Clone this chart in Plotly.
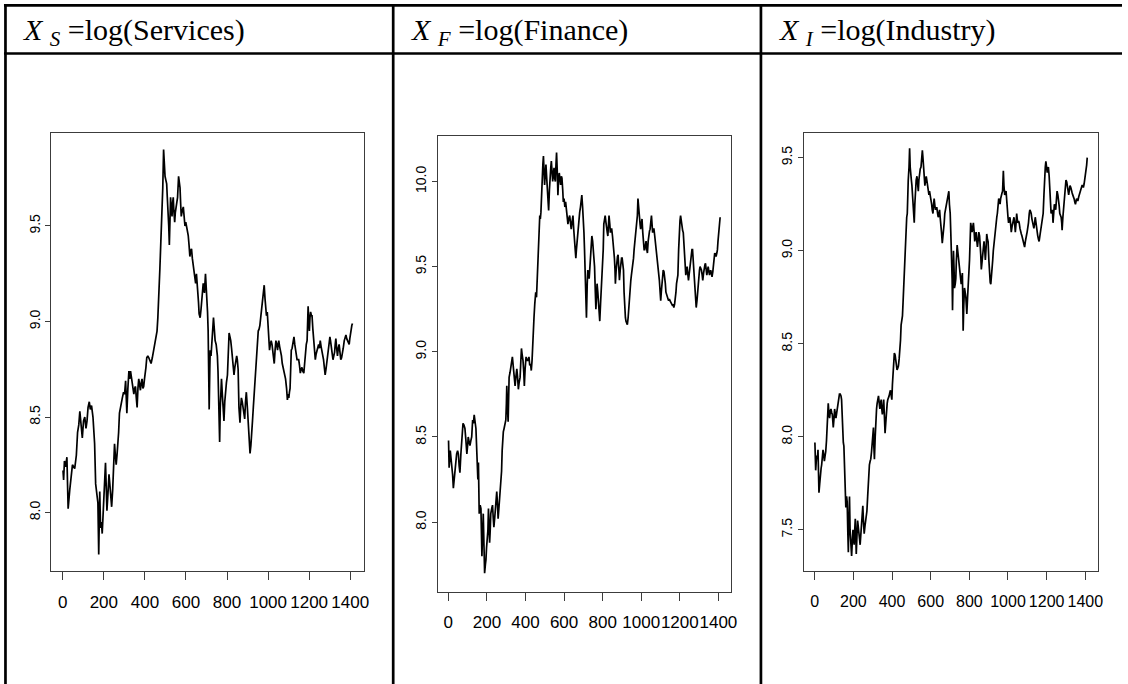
import plotly.graph_objects as go

# ---------------- data ----------------
titles = ["<i>X</i> <sub><i>S</i></sub> =log(Services)",
          "<i>X</i> <sub><i>F</i></sub> =log(Finance)",
          "<i>X</i> <sub><i>I</i></sub> =log(Industry)"]

x_ticks = [0, 200, 400, 600, 800, 1000, 1200, 1400]
services_yticks = [8.0, 8.5, 9.0, 9.5]
finance_yticks = [8.0, 8.5, 9.0, 9.5, 10.0]
industry_yticks = [7.5, 8.0, 8.5, 9.0, 9.5]

services_pts = [(1,8.22),(4,8.17),(8,8.27),(14,8.24),(20,8.29),(26,8.02),(34,8.12),(40,8.20),(47,8.25),(58,8.23),(66,8.30),(72,8.42),(78,8.46),(83,8.53),(89,8.45),(95,8.39),(101,8.48),(107,8.50),(113,8.44),(118,8.48),(123,8.55),(129,8.58),(134,8.54),(140,8.56),(147,8.50),(151,8.43),(155,8.36),(160,8.15),(164,8.10),(167,8.08),(171,8.05),(175,7.78),(180,8.11),(184,7.92),(188,7.95),(192,7.89),(197,8.00),(200,8.07),(204,8.10),(208,8.26),(212,8.12),(215,8.01),(220,8.10),(225,8.20),(229,8.15),(233,8.10),(238,8.03),(243,8.12),(247,8.20),(252,8.36),(256,8.30),(260,8.25),(264,8.30),(268,8.35),(272,8.42),(276,8.52),(280,8.55),(285,8.58),(290,8.60),(296,8.63),(301,8.62),(306,8.69),(309,8.60),(312,8.52),(317,8.65),(322,8.74),(326,8.70),(330,8.74),(334,8.71),(338,8.68),(342,8.64),(346,8.62),(350,8.65),(354,8.66),(358,8.60),(362,8.55),(366,8.65),(370,8.70),(374,8.67),(378,8.64),(382,8.68),(386,8.70),(390,8.65),(394,8.66),(398,8.70),(401,8.72),(405,8.76),(409,8.81),(414,8.82),(419,8.81),(424,8.79),(430,8.78),(436,8.81),(441,8.84),(446,8.87),(451,8.90),(455,8.93),(459,8.95),(463,9.02),(467,9.10),(470,9.20),(473,9.28),(475,9.34),(478,9.42),(482,9.50),(485,9.60),(487,9.70),(491,9.90),(494,9.80),(498,9.76),(502,9.74),(506,9.72),(509,9.65),(512,9.60),(516,9.50),(519,9.40),(522,9.58),(525,9.65),(528,9.60),(532,9.55),(535,9.62),(538,9.65),(541,9.58),(545,9.52),(548,9.57),(551,9.60),(555,9.62),(559,9.65),(564,9.76),(567,9.73),(571,9.70),(574,9.62),(577,9.55),(582,9.58),(587,9.60),(591,9.55),(595,9.50),(599,9.52),(603,9.50),(607,9.47),(611,9.45),(615,9.40),(619,9.34),(623,9.37),(627,9.38),(631,9.33),(635,9.30),(639,9.25),(643,9.23),(647,9.20),(651,9.25),(655,9.20),(658,9.15),(661,9.10),(664,9.04),(669,9.02),(673,9.06),(676,9.10),(680,9.15),(684,9.20),(687,9.18),(690,9.15),(695,9.25),(699,9.18),(702,9.12),(705,9.05),(708,8.95),(711,8.80),(713,8.54),(716,8.75),(718,8.85),(722,8.82),(726,8.88),(730,8.92),(734,9.02),(738,8.96),(742,8.90),(747,8.88),(753,8.82),(756,8.74),(758,8.65),(761,8.55),(764,8.37),(767,8.55),(770,8.68),(773,8.70),(777,8.62),(781,8.55),(785,8.48),(789,8.58),(793,8.65),(797,8.68),(802,8.72),(806,8.85),(810,8.94),(814,8.92),(818,8.90),(822,8.86),(826,8.82),(830,8.76),(834,8.72),(838,8.76),(842,8.78),(847,8.82),(850,8.80),(854,8.75),(858,8.55),(863,8.47),(867,8.56),(870,8.60),(874,8.58),(878,8.55),(882,8.52),(886,8.49),(890,8.58),(894,8.63),(899,8.55),(903,8.45),(907,8.35),(912,8.31),(916,8.35),(920,8.40),(924,8.48),(928,8.55),(932,8.62),(936,8.70),(940,8.76),(944,8.82),(948,8.88),(952,8.95),(956,8.96),(960,8.98),(964,9.02),(968,9.06),(972,9.08),(976,9.12),(981,9.19),(985,9.12),(988,9.08),(992,9.03),(996,9.05),(1001,8.92),(1004,8.88),(1007,8.85),(1011,8.88),(1015,8.90),(1019,8.88),(1023,8.85),(1027,8.82),(1030,8.78),(1034,8.85),(1038,8.90),(1042,8.88),(1046,8.85),(1049,8.88),(1052,8.90),(1056,8.87),(1060,8.85),(1065,8.82),(1069,8.78),(1073,8.76),(1077,8.74),(1081,8.72),(1085,8.70),(1090,8.65),(1094,8.59),(1098,8.62),(1101,8.60),(1104,8.63),(1107,8.65),(1110,8.75),(1113,8.85),(1117,8.86),(1121,8.88),(1126,8.92),(1130,8.88),(1133,8.85),(1137,8.82),(1141,8.80),(1145,8.80),(1149,8.80),(1153,8.77),(1157,8.73),(1161,8.75),(1165,8.76),(1169,8.74),(1174,8.73),(1178,8.78),(1182,8.85),(1186,8.88),(1190,8.90),(1195,9.08),(1198,9.00),(1201,8.95),(1204,9.02),(1207,9.05),(1211,9.03),(1214,9.03),(1218,8.96),(1222,8.90),(1226,8.84),(1230,8.80),(1234,8.83),(1238,8.85),(1242,8.86),(1246,8.88),(1250,8.86),(1254,8.90),(1258,8.87),(1262,8.85),(1266,8.82),(1270,8.80),(1274,8.76),(1278,8.72),(1282,8.75),(1286,8.78),(1290,8.82),(1295,8.85),(1298,8.88),(1301,8.92),(1304,8.90),(1307,8.88),(1311,8.84),(1316,8.80),(1320,8.82),(1324,8.84),(1327,8.88),(1330,8.91),(1334,8.86),(1338,8.82),(1342,8.86),(1346,8.88),(1350,8.84),(1354,8.80),(1358,8.81),(1362,8.83),(1366,8.86),(1371,8.90),(1375,8.92),(1379,8.93),(1383,8.91),(1387,8.90),(1391,8.89),(1395,8.88),(1398,8.91),(1400,8.93),(1404,8.95),(1408,8.98),(1411,8.99)]

finance_pts = [(1,8.48),(4,8.32),(10,8.42),(17,8.35),(22,8.28),(26,8.20),(30,8.25),(34,8.27),(39,8.35),(43,8.40),(48,8.42),(52,8.40),(56,8.33),(60,8.29),(65,8.40),(69,8.48),(73,8.55),(76,8.58),(81,8.57),(86,8.55),(91,8.48),(96,8.40),(100,8.45),(103,8.50),(108,8.47),(112,8.45),(117,8.48),(121,8.50),(126,8.60),(130,8.58),(134,8.63),(139,8.58),(143,8.55),(148,8.40),(153,8.25),(156,8.35),(160,8.05),(165,8.10),(169,8.08),(174,7.80),(178,7.95),(181,8.05),(185,7.85),(188,7.70),(192,7.75),(195,7.78),(198,7.85),(201,7.90),(205,7.95),(208,8.08),(211,7.95),(214,7.88),(217,7.95),(220,8.05),(225,8.08),(229,8.10),(233,8.02),(236,7.97),(240,8.02),(245,8.10),(248,8.15),(251,8.18),(255,8.10),(258,8.02),(262,8.08),(267,8.15),(271,8.22),(276,8.30),(279,8.42),(281,8.50),(285,8.53),(289,8.55),(294,8.57),(298,8.60),(301,8.70),(303,8.80),(306,8.68),(310,8.59),(313,8.75),(315,8.85),(320,8.88),(324,8.92),(328,8.95),(332,8.97),(336,8.92),(339,8.88),(343,8.84),(346,8.80),(350,8.85),(355,8.90),(359,8.85),(363,8.78),(367,8.82),(372,8.85),(376,8.95),(379,9.02),(383,8.98),(387,8.95),(391,8.88),(394,8.80),(398,8.90),(403,8.97),(408,8.95),(413,8.95),(418,8.97),(422,8.92),(426,8.93),(430,8.89),(434,8.95),(437,9.05),(441,9.12),(444,9.20),(448,9.28),(453,9.35),(457,9.32),(460,9.40),(464,9.48),(467,9.55),(471,9.70),(474,9.80),(477,9.78),(480,9.82),(483,9.92),(486,10.05),(490,10.10),(493,10.15),(496,10.05),(499,9.98),(503,10.05),(506,10.10),(510,10.02),(513,9.97),(517,9.90),(520,9.83),(524,9.95),(527,10.05),(531,10.08),(534,10.12),(537,10.05),(541,10.00),(545,10.05),(548,10.08),(551,10.02),(555,10.00),(558,10.10),(561,10.17),(565,10.05),(568,9.92),(571,10.00),(575,10.05),(578,10.02),(582,9.98),(586,10.03),(589,10.02),(593,9.95),(596,9.88),(600,9.90),(604,9.85),(608,9.88),(613,9.80),(617,9.78),(620,9.75),(624,9.78),(629,9.80),(633,9.76),(637,9.72),(641,9.76),(646,9.80),(650,9.72),(654,9.65),(658,9.60),(661,9.55),(664,9.60),(668,9.65),(672,9.70),(677,9.80),(681,9.82),(685,9.85),(689,9.88),(692,9.92),(696,9.85),(699,9.80),(703,9.70),(706,9.60),(709,9.50),(711,9.45),(714,9.30),(716,9.20),(720,9.40),(723,9.48),(727,9.45),(730,9.43),(734,9.50),(737,9.55),(741,9.62),(744,9.68),(748,9.65),(751,9.60),(755,9.55),(758,9.50),(762,9.35),(765,9.25),(768,9.32),(771,9.40),(775,9.35),(778,9.30),(782,9.22),(785,9.18),(789,9.28),(792,9.35),(796,9.42),(799,9.45),(803,9.60),(806,9.75),(810,9.78),(813,9.80),(817,9.76),(820,9.72),(824,9.70),(827,9.68),(830,9.75),(833,9.80),(837,9.75),(840,9.70),(844,9.72),(847,9.72),(851,9.68),(854,9.65),(858,9.60),(861,9.55),(864,9.48),(866,9.40),(870,9.48),(873,9.55),(877,9.56),(880,9.57),(884,9.50),(887,9.42),(891,9.48),(894,9.52),(898,9.55),(901,9.55),(905,9.50),(908,9.48),(911,9.35),(914,9.25),(918,9.20),(921,9.18),(925,9.17),(928,9.16),(932,9.20),(935,9.25),(939,9.32),(942,9.40),(946,9.42),(949,9.45),(953,9.48),(956,9.50),(960,9.55),(963,9.60),(967,9.65),(970,9.68),(973,9.70),(976,9.72),(980,9.80),(983,9.90),(987,9.82),(990,9.78),(994,9.75),(997,9.72),(1000,9.75),(1004,9.78),(1008,9.70),(1011,9.62),(1015,9.60),(1018,9.60),(1022,9.63),(1025,9.65),(1029,9.60),(1032,9.58),(1036,9.65),(1039,9.70),(1043,9.71),(1046,9.72),(1050,9.76),(1053,9.80),(1056,9.75),(1059,9.70),(1063,9.72),(1066,9.72),(1070,9.68),(1073,9.65),(1077,9.62),(1080,9.60),(1084,9.55),(1087,9.50),(1091,9.45),(1094,9.42),(1098,9.35),(1101,9.30),(1104,9.35),(1107,9.40),(1111,9.45),(1114,9.48),(1118,9.47),(1121,9.45),(1125,9.40),(1128,9.35),(1132,9.33),(1135,9.32),(1139,9.31),(1142,9.30),(1146,9.31),(1149,9.30),(1153,9.29),(1156,9.28),(1160,9.28),(1163,9.27),(1166,9.28),(1169,9.26),(1173,9.28),(1176,9.30),(1180,9.35),(1183,9.40),(1187,9.43),(1190,9.45),(1194,9.60),(1197,9.75),(1201,9.77),(1204,9.80),(1208,9.75),(1211,9.72),(1215,9.71),(1218,9.70),(1222,9.62),(1225,9.55),(1228,9.50),(1231,9.45),(1235,9.48),(1238,9.50),(1242,9.45),(1245,9.42),(1249,9.46),(1252,9.50),(1256,9.55),(1259,9.58),(1263,9.60),(1266,9.60),(1270,9.52),(1273,9.45),(1277,9.40),(1280,9.35),(1283,9.30),(1285,9.26),(1289,9.30),(1292,9.35),(1295,9.40),(1298,9.45),(1302,9.48),(1305,9.50),(1309,9.49),(1312,9.48),(1316,9.45),(1319,9.42),(1323,9.46),(1326,9.50),(1330,9.51),(1333,9.52),(1337,9.48),(1340,9.45),(1344,9.48),(1347,9.50),(1351,9.47),(1354,9.45),(1358,9.47),(1360,9.48),(1364,9.46),(1367,9.44),(1371,9.47),(1374,9.50),(1378,9.55),(1381,9.58),(1385,9.57),(1388,9.56),(1392,9.58),(1395,9.60),(1398,9.65),(1401,9.70),(1405,9.74),(1409,9.79)]

industry_pts = [(1,7.97),(5,7.82),(10,7.90),(14,7.88),(17,7.93),(20,7.80),(22,7.70),(26,7.75),(29,7.80),(33,7.83),(36,7.85),(40,7.90),(43,7.93),(47,7.90),(50,7.87),(54,7.90),(57,7.92),(61,7.98),(64,8.05),(67,8.12),(70,8.18),(74,8.12),(77,8.10),(81,8.14),(84,8.15),(88,8.13),(91,8.12),(94,8.08),(96,8.05),(100,8.10),(103,8.15),(107,8.12),(110,8.10),(114,8.13),(117,8.15),(121,8.20),(124,8.22),(128,8.23),(132,8.23),(136,8.22),(139,8.20),(142,8.10),(144,8.00),(148,7.97),(151,7.95),(154,7.80),(156,7.70),(159,7.65),(161,7.62),(165,7.68),(168,7.65),(171,7.50),(174,7.38),(177,7.55),(180,7.68),(183,7.50),(186,7.40),(189,7.38),(191,7.36),(195,7.45),(198,7.50),(201,7.46),(204,7.42),(207,7.50),(210,7.56),(213,7.45),(215,7.37),(219,7.48),(222,7.55),(225,7.52),(228,7.50),(232,7.45),(235,7.42),(239,7.50),(242,7.55),(246,7.60),(249,7.63),(252,7.55),(256,7.48),(260,7.52),(263,7.55),(267,7.58),(270,7.60),(274,7.68),(277,7.75),(280,7.80),(283,7.85),(287,7.87),(290,7.88),(294,7.92),(297,7.95),(301,8.00),(304,8.05),(306,7.95),(309,7.88),(313,8.00),(316,8.10),(320,8.15),(323,8.18),(327,8.20),(330,8.22),(334,8.18),(337,8.15),(341,8.18),(344,8.20),(347,8.15),(350,8.12),(354,8.16),(357,8.20),(361,8.10),(364,8.02),(368,8.08),(371,8.15),(375,8.18),(378,8.20),(382,8.21),(385,8.22),(389,8.24),(392,8.25),(396,8.22),(399,8.20),(402,8.28),(405,8.35),(409,8.42),(412,8.45),(416,8.44),(419,8.42),(423,8.38),(426,8.36),(430,8.37),(433,8.38),(437,8.42),(440,8.45),(444,8.52),(447,8.60),(451,8.62),(454,8.65),(457,8.72),(460,8.80),(464,8.90),(467,9.00),(470,9.08),(472,9.15),(476,9.18),(479,9.20),(481,9.30),(484,9.38),(488,9.45),(491,9.55),(494,9.45),(496,9.40),(500,9.38),(503,9.35),(506,9.30),(510,9.28),(512,9.20),(515,9.15),(518,9.25),(522,9.35),(525,9.38),(529,9.40),(532,9.36),(536,9.32),(539,9.38),(543,9.42),(546,9.44),(550,9.45),(553,9.50),(557,9.54),(560,9.50),(563,9.45),(567,9.40),(570,9.35),(574,9.38),(577,9.40),(580,9.38),(584,9.35),(587,9.32),(591,9.30),(594,9.32),(598,9.30),(601,9.28),(605,9.25),(608,9.22),(612,9.20),(615,9.25),(618,9.28),(622,9.24),(625,9.22),(629,9.23),(632,9.23),(636,9.20),(639,9.18),(643,9.20),(646,9.22),(649,9.18),(653,9.15),(656,9.10),(660,9.04),(663,9.07),(667,9.10),(670,9.15),(673,9.20),(677,9.22),(680,9.25),(684,9.26),(687,9.28),(691,9.30),(694,9.32),(697,9.25),(701,9.20),(704,9.10),(708,9.00),(711,8.85),(713,8.68),(716,8.85),(718,9.00),(721,8.90),(723,8.80),(727,8.82),(730,8.85),(733,8.95),(737,9.03),(740,9.00),(744,8.95),(747,8.92),(751,8.90),(754,8.86),(758,8.82),(761,8.85),(764,8.88),(766,8.75),(768,8.57),(771,8.70),(775,8.80),(778,8.78),(782,8.75),(785,8.70),(787,8.66),(791,8.75),(794,8.80),(797,8.88),(801,8.95),(804,9.05),(807,9.15),(811,9.12),(814,9.10),(818,9.13),(821,9.15),(825,9.10),(828,9.05),(832,9.08),(835,9.10),(839,9.05),(842,9.02),(846,9.06),(849,9.10),(853,9.08),(856,9.05),(859,8.98),(862,8.90),(866,8.95),(869,9.00),(873,9.02),(876,9.05),(880,9.00),(883,8.95),(887,9.02),(890,9.09),(894,9.06),(897,9.05),(901,8.95),(904,8.85),(908,8.83),(911,8.82),(914,8.85),(917,8.88),(921,8.95),(924,9.00),(928,9.05),(931,9.08),(935,9.12),(938,9.15),(942,9.18),(945,9.20),(949,9.24),(952,9.28),(956,9.27),(959,9.25),(962,9.28),(965,9.30),(969,9.31),(972,9.32),(976,9.43),(979,9.35),(983,9.30),(986,9.31),(990,9.32),(993,9.26),(996,9.20),(1000,9.18),(1003,9.15),(1007,9.17),(1010,9.18),(1014,9.14),(1017,9.10),(1021,9.13),(1024,9.15),(1028,9.17),(1031,9.18),(1035,9.14),(1038,9.10),(1042,9.15),(1045,9.20),(1048,9.17),(1051,9.15),(1055,9.16),(1058,9.15),(1062,9.12),(1065,9.10),(1069,9.09),(1072,9.08),(1076,9.06),(1079,9.05),(1083,9.03),(1086,9.02),(1090,9.05),(1093,9.08),(1097,9.09),(1099,9.10),(1103,9.12),(1106,9.15),(1110,9.20),(1113,9.22),(1117,9.21),(1120,9.20),(1124,9.17),(1127,9.15),(1131,9.13),(1134,9.12),(1138,9.15),(1141,9.18),(1145,9.15),(1148,9.12),(1151,9.10),(1154,9.08),(1158,9.06),(1161,9.05),(1165,9.08),(1168,9.10),(1172,9.12),(1175,9.15),(1179,9.18),(1182,9.20),(1186,9.30),(1189,9.40),(1193,9.45),(1196,9.48),(1200,9.45),(1203,9.42),(1206,9.44),(1209,9.45),(1213,9.40),(1216,9.35),(1220,9.28),(1223,9.20),(1227,9.21),(1230,9.22),(1233,9.15),(1237,9.20),(1240,9.25),(1244,9.24),(1247,9.22),(1251,9.28),(1254,9.32),(1258,9.30),(1261,9.28),(1265,9.24),(1268,9.20),(1272,9.19),(1275,9.18),(1278,9.15),(1280,9.11),(1284,9.18),(1287,9.22),(1291,9.27),(1294,9.30),(1297,9.35),(1300,9.38),(1304,9.37),(1307,9.35),(1311,9.32),(1314,9.30),(1318,9.33),(1321,9.35),(1325,9.34),(1328,9.32),(1332,9.31),(1335,9.30),(1339,9.29),(1342,9.28),(1346,9.26),(1349,9.25),(1353,9.27),(1355,9.28),(1359,9.27),(1362,9.27),(1366,9.29),(1369,9.30),(1373,9.32),(1376,9.33),(1380,9.34),(1383,9.35),(1387,9.35),(1390,9.34),(1394,9.36),(1397,9.38),(1401,9.40),(1404,9.42),(1407,9.46),(1410,9.50)]

# ---------------- layout geometry (pixels) ----------------
W, H = 1128, 684

def px_x(p):
    return p / W

def px_y(p):
    return 1 - p / H

panels = [
    dict(pts=services_pts, yticks=services_yticks, yr=[7.692, 9.985],
         x0=51.7, x1=366.0, top=133.3, bot=571.4, xfont=17),
    dict(pts=finance_pts, yticks=finance_yticks, yr=[7.59, 10.27],
         x0=440.0, x1=735.3, top=135.5, bot=592.0, xfont=17),
    dict(pts=industry_pts, yticks=industry_yticks, yr=[7.277, 9.631],
         x0=808.3, x1=1104.2, top=133.3, bot=571.4, xfont=16),
]

fig = go.Figure()
layout = dict(
    width=W, height=H, autosize=False,
    margin=dict(l=0, r=0, t=0, b=0, pad=0),
    paper_bgcolor="white", plot_bgcolor="white",
    showlegend=False,
)

frame_col = "#3c3c3c"
for i, p in enumerate(panels, start=1):
    xs = [a for a, b in p["pts"]]
    ys = [b for a, b in p["pts"]]
    fig.add_trace(go.Scatter(x=xs, y=ys, mode="lines",
                             line=dict(color="black", width=1.7),
                             xaxis=f"x{i}", yaxis=f"y{i}", hoverinfo="skip"))
    xa = dict(domain=[px_x(p["x0"]), px_x(p["x1"])], range=[-55.4, 1467.4],
              anchor=f"y{i}", tickvals=x_ticks, ticktext=[str(t) for t in x_ticks],
              ticks="outside", ticklen=8, tickwidth=1, tickcolor=frame_col,
              showline=True, mirror=True, linecolor=frame_col, linewidth=1,
              showgrid=False, zeroline=False, ticklabelstandoff=7, tickangle=0,
              tickfont=dict(family="Liberation Sans, Arial", size=p["xfont"],
                            color="black"))
    ya = dict(domain=[px_y(p["bot"]), px_y(p["top"])], range=p["yr"],
              anchor=f"x{i}", tickvals=p["yticks"],
              ticktext=[f"{t:.1f}" for t in p["yticks"]],
              ticks="outside", ticklen=5, tickwidth=1, tickcolor=frame_col,
              showline=True, mirror=True, linecolor=frame_col, linewidth=1,
              showgrid=False, zeroline=False, tickangle=-90,
              tickfont=dict(family="Liberation Sans, Arial", size=14, color="black"))
    layout[f"xaxis{i}" if i > 1 else "xaxis"] = xa
    layout[f"yaxis{i}" if i > 1 else "yaxis"] = ya

fig.update_layout(**layout)

# ---------------- table lines ----------------
lw = 2.7
shapes = []
shapes.append(dict(type="line", xref="paper", yref="paper",
                   x0=px_x(4), x1=1.0, y0=px_y(5.3), y1=px_y(5.3),
                   line=dict(color="black", width=lw)))
shapes.append(dict(type="line", xref="paper", yref="paper",
                   x0=px_x(4), x1=1.0, y0=px_y(53.5), y1=px_y(53.5),
                   line=dict(color="black", width=lw)))
for vx in [5.5, 395.3, 765.0]:
    shapes.append(dict(type="line", xref="paper", yref="paper",
                       x0=px_x(vx), x1=px_x(vx), y0=px_y(4), y1=0,
                       line=dict(color="black", width=lw)))
fig.update_layout(shapes=shapes)

# ---------------- header texts ----------------
for t, tx in zip(titles, [21.0, 411.0, 781.0]):
    fig.add_annotation(text=t, xref="paper", yref="paper",
                       x=px_x(tx), y=px_y(32), xanchor="left", yanchor="middle",
                       showarrow=False,
                       font=dict(family="Liberation Serif, Times New Roman", size=30,
                                 color="black"))

fig.write_html(
    "out.html",
    config={"displayModeBar": False, "staticPlot": True},
    post_script="document.body.style.margin='0';document.body.style.overflow='hidden';"
                "document.documentElement.style.overflow='hidden';",
)
